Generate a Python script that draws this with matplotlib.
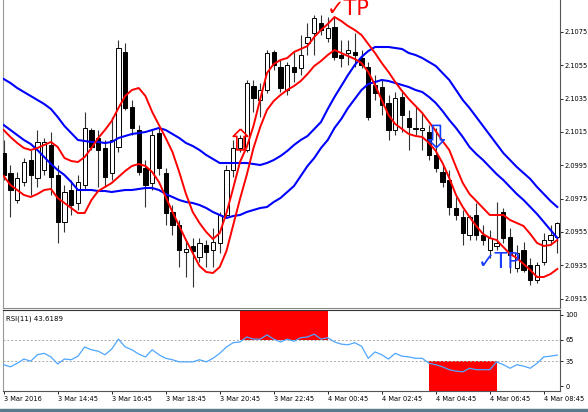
import matplotlib.pyplot as plt
import numpy as np
from matplotlib.path import Path
from matplotlib.patches import Rectangle

# GBPNZD-like M15 candles
opens = [2.10024, 2.09904, 2.09742, 2.09850, 2.09982, 2.09874, 2.09922, 2.10072, 2.09892, 2.09610,
         2.09802, 2.09724, 2.09832, 2.10162, 2.10114, 2.10054, 2.09904, 2.10060, 2.10630, 2.10300,
         2.10162, 2.09934, 2.09844, 2.10144, 2.09904, 2.09670, 2.09592, 2.09430, 2.09466, 2.09400,
         2.09472, 2.09442, 2.09484, 2.09652, 2.09922, 2.10054, 2.10042, 2.10426, 2.10342, 2.10402,
         2.10630, 2.10540, 2.10402, 2.10540, 2.10534, 2.10684, 2.10744, 2.10804, 2.10714, 2.10780,
         2.10612, 2.10624, 2.10630, 2.10594, 2.10540, 2.10432, 2.10420, 2.10324, 2.10162, 2.10360,
         2.10234, 2.10168, 2.10162, 2.10150, 2.10012, 2.09910, 2.09862, 2.09694, 2.09640, 2.09532,
         2.09652, 2.09532, 2.09442, 2.09466, 2.09670, 2.09520, 2.09334, 2.09442, 2.09352, 2.09262,
         2.09370, 2.09502, 2.09520]
highs = [2.10102, 2.09952, 2.09910, 2.09994, 2.10042, 2.10162, 2.10114, 2.10150, 2.09952, 2.09832,
         2.09862, 2.09892, 2.10270, 2.10174, 2.10162, 2.10102, 2.10240, 2.10702, 2.10684, 2.10342,
         2.10192, 2.09982, 2.10162, 2.10174, 2.09934, 2.09712, 2.09622, 2.09502, 2.09514, 2.09514,
         2.09502, 2.09574, 2.09670, 2.09952, 2.10102, 2.10132, 2.10462, 2.10462, 2.10444, 2.10642,
         2.10642, 2.10582, 2.10570, 2.10630, 2.10732, 2.10804, 2.10852, 2.10852, 2.10840, 2.10840,
         2.10702, 2.10702, 2.10744, 2.10642, 2.10570, 2.10492, 2.10462, 2.10372, 2.10390, 2.10402,
         2.10282, 2.10300, 2.10264, 2.10192, 2.10174, 2.09952, 2.09922, 2.09760, 2.09682, 2.09652,
         2.09724, 2.09592, 2.09562, 2.09730, 2.09694, 2.09574, 2.09472, 2.09490, 2.09394, 2.09370,
         2.09544, 2.09592, 2.09612]
lows = [2.09862, 2.09640, 2.09724, 2.09826, 2.09772, 2.09820, 2.09892, 2.09772, 2.09484, 2.09550,
        2.09652, 2.09682, 2.09802, 2.10042, 2.09820, 2.09820, 2.09862, 2.10030, 2.10282, 2.10132,
        2.09892, 2.09700, 2.09802, 2.09892, 2.09592, 2.09532, 2.09340, 2.09280, 2.09220, 2.09370,
        2.09340, 2.09340, 2.09424, 2.09634, 2.09880, 2.10030, 2.10030, 2.10270, 2.10240, 2.10384,
        2.10522, 2.10390, 2.10372, 2.10450, 2.10492, 2.10612, 2.10612, 2.10732, 2.10690, 2.10582,
        2.10540, 2.10552, 2.10540, 2.10534, 2.10222, 2.10342, 2.10252, 2.10102, 2.10132, 2.10150,
        2.10042, 2.10132, 2.10042, 2.09982, 2.09910, 2.09820, 2.09652, 2.09622, 2.09472, 2.09502,
        2.09502, 2.09472, 2.09394, 2.09442, 2.09484, 2.09304, 2.09310, 2.09310, 2.09232, 2.09244,
        2.09352, 2.09472, 2.09424]
closes = [2.09892, 2.09802, 2.09874, 2.09970, 2.09892, 2.10090, 2.10090, 2.09880, 2.09610, 2.09790,
          2.09712, 2.09850, 2.10174, 2.10060, 2.10042, 2.09880, 2.10102, 2.10654, 2.10294, 2.10174,
          2.09910, 2.09832, 2.10132, 2.09934, 2.09664, 2.09592, 2.09442, 2.09448, 2.09436, 2.09484,
          2.09430, 2.09490, 2.09652, 2.09922, 2.10054, 2.10114, 2.10444, 2.10354, 2.10402, 2.10624,
          2.10552, 2.10414, 2.10552, 2.10510, 2.10612, 2.10720, 2.10834, 2.10762, 2.10774, 2.10600,
          2.10594, 2.10642, 2.10612, 2.10552, 2.10240, 2.10384, 2.10312, 2.10162, 2.10354, 2.10252,
          2.10180, 2.10174, 2.10174, 2.10012, 2.09934, 2.09850, 2.09700, 2.09652, 2.09544, 2.09640,
          2.09532, 2.09502, 2.09514, 2.09484, 2.09514, 2.09412, 2.09424, 2.09322, 2.09262, 2.09352,
          2.09502, 2.09532, 2.09604]

# slow channel (blue) and fast channel (red)
blue_upper = [2.10468, 2.10444, 2.10414, 2.10390, 2.10366, 2.10342, 2.10318, 2.10288, 2.10240, 2.10186,
              2.10144, 2.10102, 2.10096, 2.10090, 2.10090, 2.10084, 2.10090, 2.10114, 2.10126, 2.10138,
              2.10144, 2.10150, 2.10162, 2.10174, 2.10162, 2.10138, 2.10114, 2.10084, 2.10066, 2.10042,
              2.10012, 2.09988, 2.09964, 2.09964, 2.09964, 2.09964, 2.09964, 2.09958, 2.09952, 2.09964,
              2.09982, 2.10006, 2.10036, 2.10072, 2.10102, 2.10126, 2.10168, 2.10210, 2.10288, 2.10360,
              2.10426, 2.10492, 2.10552, 2.10600, 2.10636, 2.10660, 2.10660, 2.10660, 2.10654, 2.10648,
              2.10624, 2.10612, 2.10594, 2.10570, 2.10546, 2.10504, 2.10462, 2.10402, 2.10342, 2.10294,
              2.10240, 2.10186, 2.10132, 2.10078, 2.10024, 2.09982, 2.09940, 2.09904, 2.09868, 2.09820,
              2.09778, 2.09736, 2.09700]
blue_lower = [2.10192, 2.10162, 2.10132, 2.10102, 2.10078, 2.10042, 2.10000, 2.09958, 2.09922, 2.09892,
              2.09850, 2.09802, 2.09802, 2.09802, 2.09796, 2.09796, 2.09790, 2.09796, 2.09802, 2.09802,
              2.09808, 2.09814, 2.09814, 2.09802, 2.09778, 2.09760, 2.09742, 2.09730, 2.09724, 2.09712,
              2.09694, 2.09670, 2.09652, 2.09634, 2.09646, 2.09652, 2.09670, 2.09682, 2.09694, 2.09700,
              2.09730, 2.09754, 2.09790, 2.09826, 2.09886, 2.09946, 2.09994, 2.10054, 2.10102, 2.10174,
              2.10228, 2.10294, 2.10348, 2.10402, 2.10438, 2.10450, 2.10462, 2.10456, 2.10444, 2.10432,
              2.10420, 2.10402, 2.10390, 2.10360, 2.10324, 2.10276, 2.10222, 2.10174, 2.10120, 2.10060,
              2.10018, 2.09982, 2.09940, 2.09898, 2.09862, 2.09820, 2.09778, 2.09742, 2.09700, 2.09658,
              2.09610, 2.09562, 2.09514]
red_upper = [2.10162, 2.10120, 2.10084, 2.10054, 2.10042, 2.10054, 2.10072, 2.10090, 2.10060, 2.09994,
             2.09976, 2.09970, 2.10000, 2.10054, 2.10114, 2.10162, 2.10216, 2.10294, 2.10366, 2.10402,
             2.10414, 2.10366, 2.10270, 2.10192, 2.10114, 2.10030, 2.09910, 2.09778, 2.09670, 2.09604,
             2.09550, 2.09508, 2.09544, 2.09664, 2.09814, 2.09970, 2.10060, 2.10186, 2.10348, 2.10504,
             2.10558, 2.10582, 2.10594, 2.10630, 2.10648, 2.10666, 2.10720, 2.10762, 2.10798, 2.10840,
             2.10816, 2.10786, 2.10762, 2.10732, 2.10678, 2.10624, 2.10564, 2.10510, 2.10450, 2.10396,
             2.10348, 2.10306, 2.10264, 2.10210, 2.10156, 2.10096, 2.10042, 2.09940, 2.09844, 2.09778,
             2.09736, 2.09694, 2.09652, 2.09652, 2.09652, 2.09622, 2.09604, 2.09586, 2.09538, 2.09484,
             2.09466, 2.09472, 2.09502]
red_lower = [2.09886, 2.09832, 2.09802, 2.09772, 2.09760, 2.09778, 2.09802, 2.09808, 2.09754, 2.09724,
             2.09694, 2.09664, 2.09664, 2.09742, 2.09796, 2.09820, 2.09844, 2.09880, 2.09916, 2.09946,
             2.09958, 2.09946, 2.09910, 2.09850, 2.09760, 2.09670, 2.09586, 2.09502, 2.09424, 2.09346,
             2.09310, 2.09304, 2.09340, 2.09436, 2.09592, 2.09748, 2.09892, 2.10054, 2.10180, 2.10282,
             2.10336, 2.10372, 2.10402, 2.10426, 2.10456, 2.10498, 2.10546, 2.10576, 2.10612, 2.10642,
             2.10624, 2.10606, 2.10588, 2.10564, 2.10510, 2.10432, 2.10342, 2.10252, 2.10198, 2.10168,
             2.10138, 2.10126, 2.10120, 2.10084, 2.10036, 2.09964, 2.09874, 2.09772, 2.09700, 2.09640,
             2.09586, 2.09538, 2.09514, 2.09502, 2.09460, 2.09418, 2.09394, 2.09358, 2.09322, 2.09280,
             2.09280, 2.09298, 2.09328]

rsi = [30, 27, 32, 38, 35, 44, 46, 41, 31, 38,
       37, 42, 55, 51, 49, 44, 52, 66, 55, 51,
       45, 41, 51, 44, 39, 37, 34, 34, 34, 37,
       34, 39, 46, 55, 61, 62, 69, 66, 66, 72,
       66, 62, 66, 63, 68, 69, 73, 66, 68, 62,
       59, 58, 61, 56, 39, 48, 44, 38, 46, 42,
       41, 39, 39, 32, 30, 27, 23, 21, 20, 25,
       23, 23, 23, 34, 30, 25, 30, 28, 25, 32,
       41, 42, 43.6189]

# signals
buy_bar, buy_price = 35, 2.10108
sell_bar, sell_price = 64, 2.10123
tp_buy_bar, tp_buy_price = 47.9, 2.10888
tp_sell_bar, tp_sell_price = 70.2, 2.09370
overbought_zone = (35, 48)
oversold_zone = (63, 73)
rsi_levels = [35, 65]

price_ticks = [2.0915, 2.0935, 2.0955, 2.0975, 2.0995, 2.1015, 2.1035, 2.1055, 2.1075]
rsi_ticks = [0, 35, 65, 100]
time_tick_bars = [0, 8, 16, 24, 32, 40, 48, 56, 64, 72, 80]
time_labels = ['3 Mar 2016', '3 Mar 14:45', '3 Mar 16:45', '3 Mar 18:45', '3 Mar 20:45',
               '3 Mar 22:45', '4 Mar 00:45', '4 Mar 02:45', '4 Mar 04:45', '4 Mar 06:45',
               '4 Mar 08:45']

opens = np.array(opens); closes = np.array(closes)
highs = np.array(highs); lows = np.array(lows)
bars = np.arange(len(opens))

fig = plt.figure(figsize=(5.88, 4.12), dpi=100)
ax = fig.add_axes([3/588, 104/412, 557/588, 308/412])
ax2 = fig.add_axes([3/588, 21/412, 557/588, 81/412])

# candles
up = closes >= opens
body_lo = np.minimum(opens, closes)
body_h = np.maximum(np.abs(closes - opens), 0.00004)
ax.vlines(bars, lows, highs, color='#333333', lw=0.8, zorder=2)
ax.bar(bars[up], body_h[up], bottom=body_lo[up], width=0.62, color='white',
       edgecolor='black', lw=0.7, zorder=3)
ax.bar(bars[~up], body_h[~up], bottom=body_lo[~up], width=0.62, color='black',
       edgecolor='black', lw=0.7, zorder=3)

ax.plot(bars, blue_upper, color='#0000ff', lw=1.5, zorder=4)
ax.plot(bars, blue_lower, color='#0000ff', lw=1.5, zorder=4)
ax.plot(bars, red_upper, color='#ff0000', lw=1.4, zorder=5)
ax.plot(bars, red_lower, color='#ff0000', lw=1.4, zorder=5)

# hollow arrows
arrow_up = Path([(0, 1), (0.7, 0.3), (0.35, 0.3), (0.35, -1), (-0.35, -1),
                 (-0.35, 0.3), (-0.7, 0.3), (0, 1)])
arrow_dn = Path([(0, -1), (0.7, -0.3), (0.35, -0.3), (0.35, 1), (-0.35, 1),
                 (-0.35, -0.3), (-0.7, -0.3), (0, -1)])
ax.plot([buy_bar], [buy_price], marker=arrow_up, ms=15, mfc='none', mec='#ff0000',
        mew=1.2, zorder=6)
ax.plot([sell_bar], [sell_price], marker=arrow_dn, ms=16, mfc='none', mec='#1040ff',
        mew=1.2, zorder=6)

ax.text(tp_buy_bar, tp_buy_price, '✓TP', color='#ff0000', fontsize=15,
        ha='left', va='center', zorder=7)
ax.text(tp_sell_bar, tp_sell_price, '✓TP', color='#1a3cff', fontsize=15,
        ha='left', va='center', zorder=7)

ax.set_xlim(-0.1, 82.4)
ax.set_ylim(2.09094, 2.10942)
ax.yaxis.tick_right()
ax.set_yticks(price_ticks)
ax.set_yticklabels(['%.4f' % p for p in price_ticks])
ax.set_xticks([])
ax.tick_params(axis='y', length=2.2, width=0.6, labelsize=4.8, pad=1)
ax.spines['top'].set_visible(False)
ax.spines['left'].set_color('#999999')
ax.spines['right'].set_color('#555555')
ax.spines['bottom'].set_color('#888888')
for s in ax.spines.values():
    s.set_linewidth(0.8)

# RSI panel
ax2.fill_between(list(overbought_zone), 65, 107, color='#ff0000', lw=0, zorder=1)
ax2.fill_between(list(oversold_zone), -7, 35, color='#ff0000', lw=0, zorder=1)
for lv in rsi_levels:
    ax2.axhline(lv, color='#aaaaaa', ls=(0, (2, 2)), lw=0.7, zorder=2)
ax2.plot(bars, rsi, color='#4da6ff', lw=0.9, zorder=3)
ax2.text(0.005, 0.93, 'RSI(11) 43.6189', transform=ax2.transAxes, fontsize=5,
         va='top', ha='left')
ax2.set_xlim(-0.1, 82.4)
ax2.set_ylim(-7, 107)
ax2.yaxis.tick_right()
ax2.set_yticks(rsi_ticks)
ax2.set_xticks(time_tick_bars)
ax2.set_xticklabels(time_labels, ha='left')
ax2.tick_params(axis='both', length=2.2, width=0.6, labelsize=4.8, pad=1.5)
ax2.spines['left'].set_color('#999999')
ax2.spines['top'].set_color('#333333')
ax2.spines['right'].set_color('#555555')
ax2.spines['bottom'].set_color('#555555')
for s in ax2.spines.values():
    s.set_linewidth(0.8)

fig.patches.append(Rectangle((0, 0), 1, 3/412, transform=fig.transFigure,
                             color='#5b7b8c', zorder=0))

fig.savefig('out.png', dpi=100)
